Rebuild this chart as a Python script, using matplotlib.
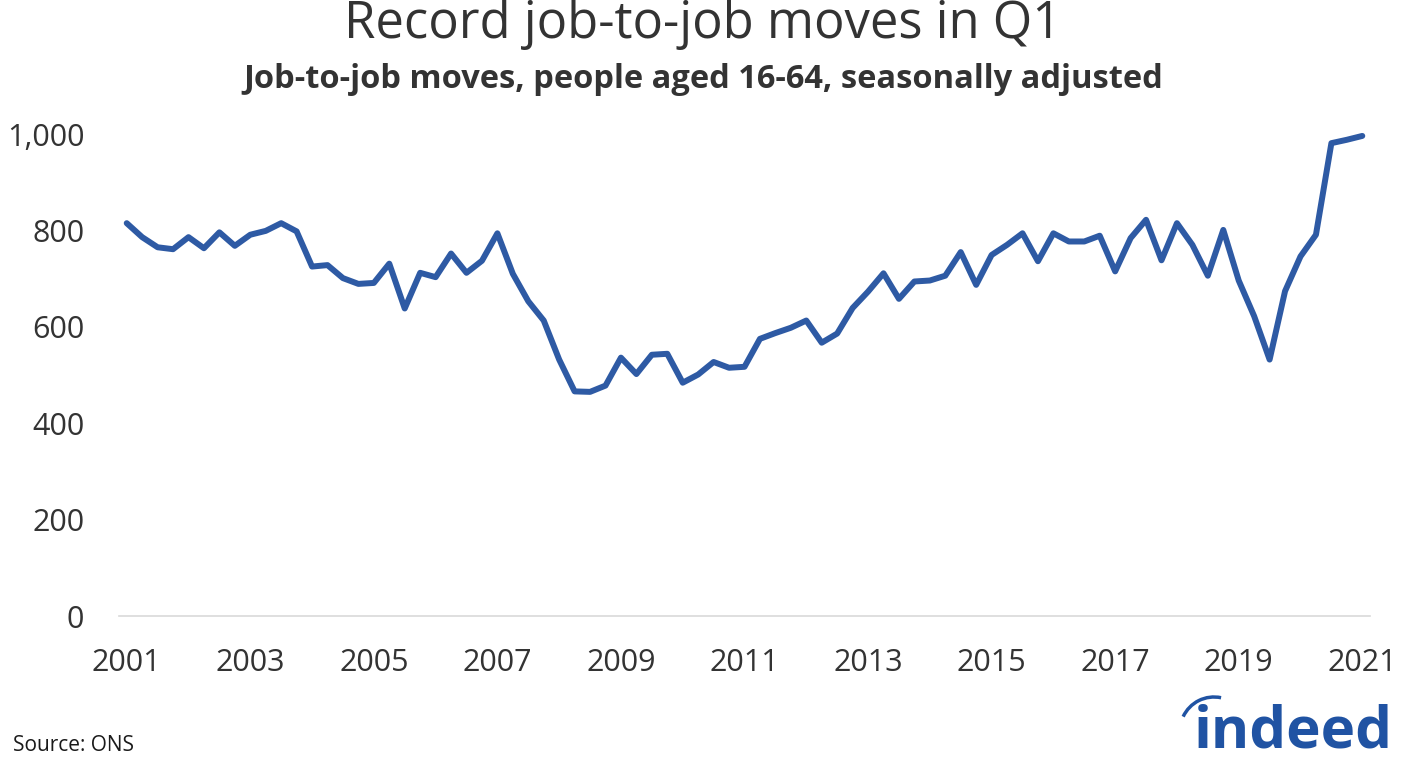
import numpy as np
import matplotlib.pyplot as plt
from matplotlib.patches import Arc

plt.rcParams['font.family'] = ['Open Sans', 'DejaVu Sans']

# Quarterly job-to-job moves (thousands), 2001 Q1 - 2021 Q1
start_year = 2001
moves = [815, 786, 765, 761, 786, 763, 796, 768, 791, 799,
         815, 798, 725, 728, 701, 689, 691, 731, 638, 712,
         703, 752, 712, 737, 794, 710, 653, 613, 532, 466,
         465, 478, 536, 502, 542, 544, 484, 501, 527, 515,
         517, 575, 587, 598, 613, 567, 586, 639, 673, 711,
         658, 694, 696, 706, 755, 687, 749, 770, 794, 736,
         794, 777, 777, 789, 715, 784, 822, 738, 815, 770,
         706, 801, 696, 622, 532, 674, 746, 791, 981, 988,
         996]
year_ticks = [2001, 2003, 2005, 2007, 2009, 2011, 2013, 2015, 2017, 2019, 2021]
y_ticks = [0, 200, 400, 600, 800, 1000]
y_labels = ['0', '200', '400', '600', '800', '1,000']

x = start_year + np.arange(len(moves)) / 4

W, H = 1406, 760
fig = plt.figure(figsize=(W / 100, H / 100), dpi=100)
ax = fig.add_axes([119 / W, (H - 616) / H, (1370 - 119) / W, (616 - 134) / H])

ax.plot(x, moves, color='#2e5aa4', lw=4.3, solid_joinstyle='round',
        solid_capstyle='round', clip_on=False)

ax.set_xlim(2000.875, 2021.125)
ax.set_ylim(0, 1000)
ax.set_xticks(year_ticks)
ax.set_xticklabels([str(y) for y in year_ticks])
ax.set_yticks(y_ticks)
ax.set_yticklabels(y_labels)
ax.tick_params(axis='both', length=0, labelsize=22, colors='#333333')
ax.tick_params(axis='x', pad=23)
ax.tick_params(axis='y', pad=25)

for s in ['top', 'right', 'left']:
    ax.spines[s].set_visible(False)
ax.spines['bottom'].set_color('#d9d9d9')
ax.spines['bottom'].set_linewidth(1.2)

fig.text(0.5, 1 - 24 / H, 'Record job-to-job moves in Q1', ha='center', va='center',
         fontsize=36.5, color='#333333')
fig.text(0.5, 1 - 79 / H, 'Job-to-job moves, people aged 16-64, seasonally adjusted',
         ha='center', va='center', fontsize=23.5, fontweight='bold', color='#333333')
fig.text(13 / W, 1 - 751 / H, 'Source: ONS', ha='left', va='baseline',
         fontsize=15, color='#1a1a1a')

# indeed logo
fig.text(1393 / W, 1 - 748 / H, 'indeed', ha='right', va='baseline',
         fontsize=42, fontweight='bold', color='#2053a3')
lax = fig.add_axes([0, 0, 1, 1], facecolor='none')
lax.set_xlim(0, W)
lax.set_ylim(H, 0)
lax.axis('off')
lax.add_patch(Arc((1214, 731), 68, 68, theta1=205, theta2=282, color='#2053a3', lw=2.5))

fig.savefig('out.png', dpi=100)
